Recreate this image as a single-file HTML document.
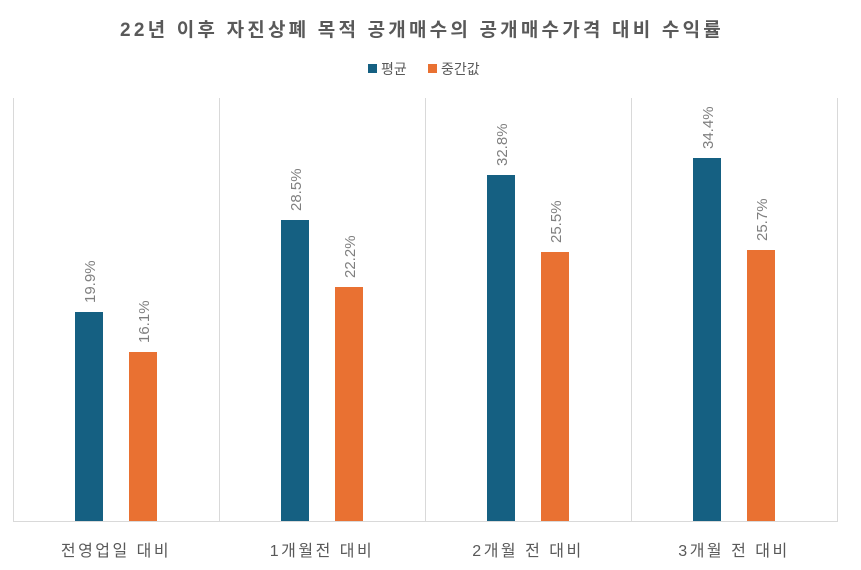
<!DOCTYPE html>
<html><head><meta charset="utf-8"><style>
body{margin:0;background:#fff;}
svg{display:block;font-family:"Liberation Sans","Noto Sans CJK KR",sans-serif;}
</style></head><body>
<svg width="861" height="570" viewBox="0 0 861 570">
<rect width="861" height="570" fill="#fff"/>
<text x="422" y="36" text-anchor="middle" font-size="19" font-weight="bold" fill="#595959" letter-spacing="3.2">22년 이후 자진상폐 목적 공개매수의 공개매수가격 대비 수익률</text>
<rect x="368" y="64" width="9" height="9" fill="#156082"/>
<text x="381" y="74" font-size="14" fill="#595959">평균</text>
<rect x="428" y="64" width="9" height="9" fill="#E97132"/>
<text x="441" y="74" font-size="14" fill="#595959">중간값</text>
<g stroke="#d9d9d9" stroke-width="1">
<line x1="13.5" y1="98" x2="13.5" y2="522"/>
<line x1="219.5" y1="98" x2="219.5" y2="522"/>
<line x1="425.5" y1="98" x2="425.5" y2="522"/>
<line x1="631.5" y1="98" x2="631.5" y2="522"/>
<line x1="837.5" y1="98" x2="837.5" y2="522"/>
<line x1="13" y1="521.5" x2="838" y2="521.5"/>
</g>
<g fill="#156082">
<rect x="75" y="312" width="28" height="209"/>
<rect x="281" y="220" width="28" height="301"/>
<rect x="487" y="175" width="28" height="346"/>
<rect x="693" y="158" width="28" height="363"/>
</g>
<g fill="#E97132">
<rect x="129" y="352" width="28" height="169"/>
<rect x="335" y="287" width="28" height="234"/>
<rect x="541" y="252" width="28" height="269"/>
<rect x="747" y="250" width="28" height="271"/>
</g>
<g font-size="15" fill="#7f7f7f">
<text transform="translate(95,303) rotate(-90)">19.9%</text>
<text transform="translate(149,343) rotate(-90)">16.1%</text>
<text transform="translate(301,211) rotate(-90)">28.5%</text>
<text transform="translate(355,278) rotate(-90)">22.2%</text>
<text transform="translate(507,166) rotate(-90)">32.8%</text>
<text transform="translate(561,243) rotate(-90)">25.5%</text>
<text transform="translate(713,149) rotate(-90)">34.4%</text>
<text transform="translate(767,241) rotate(-90)">25.7%</text>
</g>
<g font-size="16" fill="#595959" text-anchor="middle" letter-spacing="2.5">
<text x="116" y="556">전영업일 대비</text>
<text x="322" y="556">1개월전 대비</text>
<text x="528" y="556">2개월 전 대비</text>
<text x="734" y="556">3개월 전 대비</text>
</g>
</svg>
</body></html>
